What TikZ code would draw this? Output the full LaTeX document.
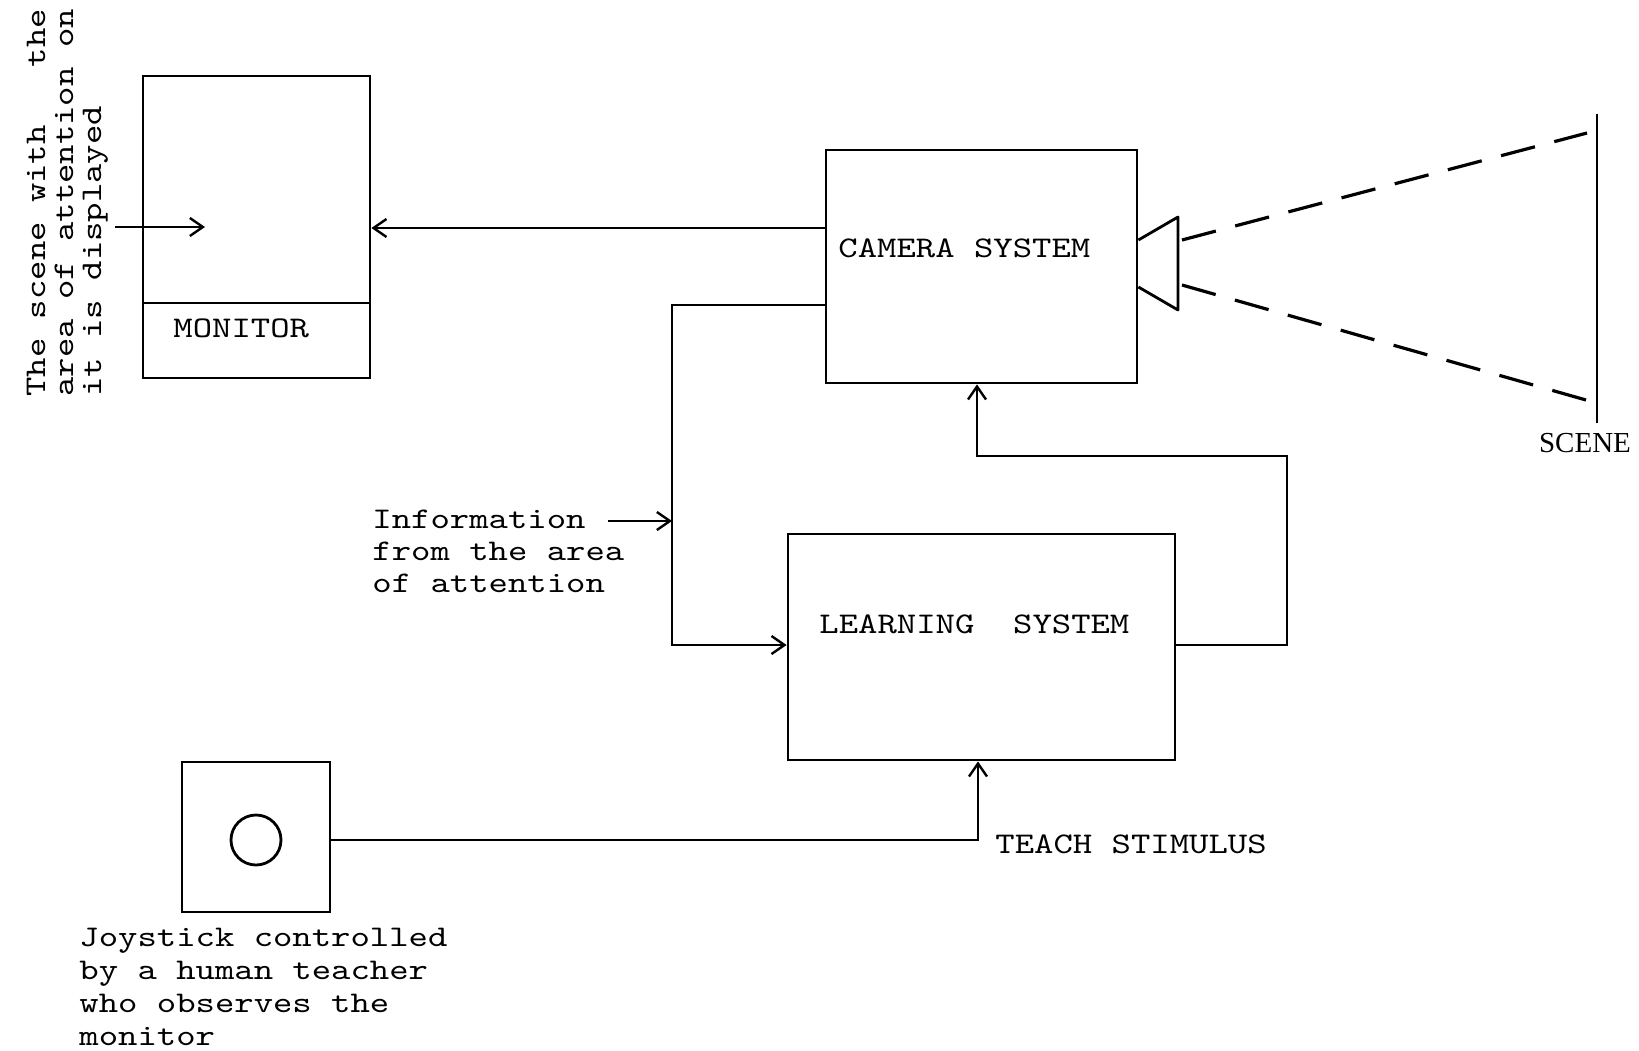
\documentclass[tikz,border=0pt]{standalone}
\usepackage{fontspec}
\usepackage{graphicx}
\newfontfamily\twfont{lmmono10-regular.otf}
\newfontfamily\scenefont{Liberation Serif}
\newcommand{\tw}[1]{\scalebox{1.23}[1]{#1}}
\usetikzlibrary{arrows.meta}
\begin{document}
\begin{tikzpicture}[x=0.5pt,y=-0.5pt,
  box/.style={draw, rectangle, inner sep=0pt, line width=1.4pt},
  tt/.style={font=\twfont\fontsize{15}{15}\selectfont, inner sep=0pt, anchor=base west},
  arr/.style={-{Straight Barb[length=6.5pt,width=9pt,line width=1.2pt]}},
  conn/.style={line width=1.4pt, line join=miter},
  ray/.style={line width=1.6pt, dash pattern=on 17.5pt off 10pt}]
\useasboundingbox (0,0) rectangle (1639,1050);

% boxes
\node[box, minimum width=113.5pt, minimum height=151pt] (monitor) at (256.5,227) {};
\node[box, minimum width=155.5pt, minimum height=116.5pt] (camera) at (981.5,266.5) {};
\node[box, minimum width=193.5pt, minimum height=113pt] (learning) at (981.5,647) {};
\node[box, minimum width=74pt, minimum height=75pt] (joystick) at (256,837) {};
\node[draw, circle, line width=1.4pt, minimum size=25pt, inner sep=0pt] (knob) at (256,840) {};
\draw[conn] (monitor.west |- 0,303) -- (monitor.east |- 0,303);

% texts
\node[tt] (montxt) at (173,337) {\tw{MONITOR}};
\node[tt] (camtxt) at (838,257) {\tw{CAMERA SYSTEM}};
\node[tt] (lrntxt) at (819,633) {\tw{LEARNING\ \ SYSTEM}};
\node[tt] (teach) at (995,853) {\tw{TEACH STIMULUS}};
\node[tt] (info1) at (372,528) {\tw{Information}};
\node[tt] (info2) at (372,560) {\tw{from the area}};
\node[tt] (info3) at (372,592) {\tw{of attention}};
\node[tt] (joy1) at (79,946) {\tw{Joystick controlled}};
\node[tt] (joy2) at (79,979) {\tw{by a human teacher}};
\node[tt] (joy3) at (79,1012) {\tw{who observes the}};
\node[tt] (joy4) at (79,1045) {\tw{monitor}};
\node[tt, rotate=90] (scn1) at (45,397) {\tw{The scene with\ \ \ the}};
\node[tt, rotate=90] (scn2) at (73,397) {\tw{area of attention on}};
\node[tt, rotate=90] (scn3) at (101,397) {\tw{it is displayed}};
\node[font=\scenefont\fontsize{14.5}{14.5}\selectfont, inner sep=0pt, anchor=base] (scenetxt) at (1585,452) {SCENE};

% coordinates
\coordinate (inL) at (115,227);
\coordinate (inR) at (205,227);
\coordinate (infoc) at (672,645);
\coordinate (ia1) at (608,521);
\coordinate (fb) at (1287,456);
\coordinate (lensUR) at (1178,217);
\coordinate (lensLR) at (1178,310);
\coordinate (rayU) at (1182,240);
\coordinate (rayL) at (1182,285);
\coordinate (sT) at (1597,114);
\coordinate (sB) at (1597,423);
\coordinate (sU) at (1587,133);
\coordinate (sL) at (1593,402);

% connectors
\draw[conn,arr] (camera.west |- 0,228) -- (monitor.east |- 0,228);
\draw[conn,arr] (inL) -- (inR);
\draw[conn,arr] (camera.west |- 0,305) -| (infoc) -- (learning.west |- infoc);
\draw[conn,arr] (ia1) -- (ia1 -| infoc);
\draw[conn,arr] (learning.east |- infoc) -| (fb) -| (camera.south -| 977,0);
\draw[conn,arr] (joystick.east |- knob) -| (learning.south -| 978,0);

% lens, rays, scene
\draw[conn, line join=round] (camera.east |- 0,240) -- (lensUR) -- (lensLR) -- (camera.east |- 0,287);
\draw[ray] (rayU) -- (sU);
\draw[ray] (rayL) -- (sL);
\draw[conn] (sT) -- (sB);
\end{tikzpicture}
\end{document}
